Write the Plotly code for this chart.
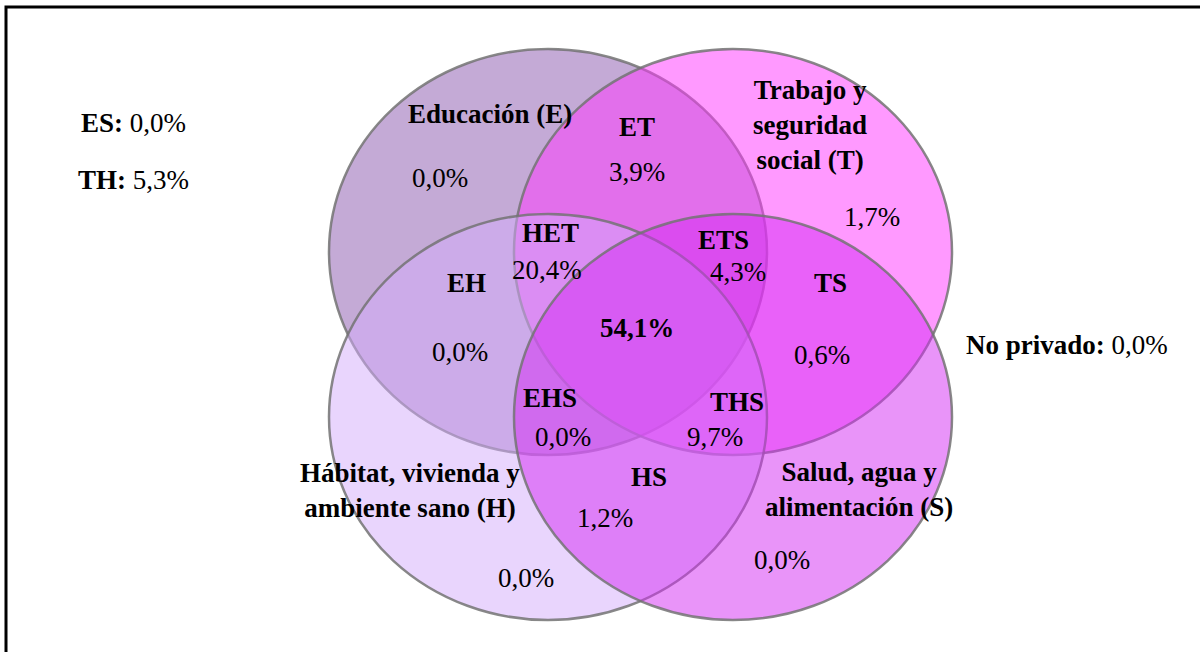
import plotly.graph_objects as go

# Venn of deprivation dimensions (percent of population)
sets = ['E', 'T', 'H', 'S']
set_names = ['Educación (E)', 'Trabajo y<br>seguridad<br>social (T)',
             'Hábitat, vivienda y<br>ambiente sano (H)', 'Salud, agua y<br>alimentación (S)']
set_colors = ['rgba(137,85,173,0.5)', 'rgba(255,51,255,0.5)',
              'rgba(211,171,251,0.5)', 'rgba(211,41,243,0.5)']

regions = ['E', 'T', 'H', 'S', 'ET', 'EH', 'TS', 'HS', 'HET', 'ETS', 'EHS', 'THS', 'ETHS']
values = ['0,0%', '1,7%', '0,0%', '0,0%', '3,9%', '0,0%', '0,6%', '1,2%',
          '20,4%', '4,3%', '0,0%', '9,7%', '54,1%']
outside_labels = ['ES', 'TH', 'No privado']
outside_values = ['0,0%', '5,3%', '0,0%']

# layout (pixel-like data coordinates)
centers = {'E': (548, 252), 'T': (733, 252), 'H': (548, 417), 'S': (733, 417)}
rx, ry = 219, 203
name_pos = {'E': (490, 114), 'T': (810, 125), 'H': (410, 490), 'S': (859, 489)}
label_pos = {'ET': (637, 127), 'EH': (466, 283), 'TS': (830, 283), 'HS': (649, 477),
             'HET': (550, 233), 'ETS': (723, 240), 'EHS': (550, 398), 'THS': (737, 402)}
value_pos = {'E': (440, 178), 'T': (872, 217), 'H': (526, 578), 'S': (782, 560),
             'ET': (637, 172), 'EH': (460, 352), 'TS': (822, 355), 'HS': (605, 518),
             'HET': (547, 270), 'ETS': (738, 272), 'EHS': (563, 437), 'THS': (715, 437),
             'ETHS': (637, 328)}
outside_pos = [(133, 123), (133, 180), (1067, 345)]

FONT = 'Liberation Serif, Times New Roman, serif'
FS = 27

fig = go.Figure()
fig.add_trace(go.Scatter(x=[0], y=[0], mode='markers', marker=dict(opacity=0),
                         hoverinfo='skip', showlegend=False))

# frame
fig.add_shape(type='rect', x0=6, y0=7, x1=1215, y1=670,
              line=dict(color='black', width=3), fillcolor='rgba(0,0,0,0)')

for s, col in zip(sets, set_colors):
    cx, cy = centers[s]
    fig.add_shape(type='circle', x0=cx - rx, x1=cx + rx, y0=cy - ry, y1=cy + ry,
                  fillcolor=col, line=dict(color='rgba(115,115,115,0.85)', width=2.5))

annots = []
for s, nm in zip(sets, set_names):
    x, y = name_pos[s]
    annots.append(dict(x=x, y=y, text='<b>' + nm + '</b>'))
for r, (x, y) in label_pos.items():
    annots.append(dict(x=x, y=y, text='<b>' + r + '</b>'))
for r, v in zip(regions, values):
    x, y = value_pos[r]
    txt = '<b>' + v + '</b>' if r == 'ETHS' else v
    annots.append(dict(x=x, y=y, text=txt))
for lab, v, (x, y) in zip(outside_labels, outside_values, outside_pos):
    annots.append(dict(x=x, y=y, text='<b>' + lab + ':</b> ' + v))

for a in annots:
    fig.add_annotation(x=a['x'], y=a['y'], text=a['text'], showarrow=False,
                       xanchor='center', yanchor='middle',
                       font=dict(family=FONT, size=FS, color='black'))

fig.update_layout(
    width=1200, height=652,
    margin=dict(l=0, r=0, t=0, b=0),
    paper_bgcolor='white', plot_bgcolor='white',
    xaxis=dict(range=[0, 1200], visible=False, fixedrange=True),
    yaxis=dict(range=[652, 0], visible=False, fixedrange=True),
    showlegend=False,
)

fig.write_html("out.html", config={'displayModeBar': False},
               post_script="document.body.style.margin='0';document.body.style.overflow='hidden';")
